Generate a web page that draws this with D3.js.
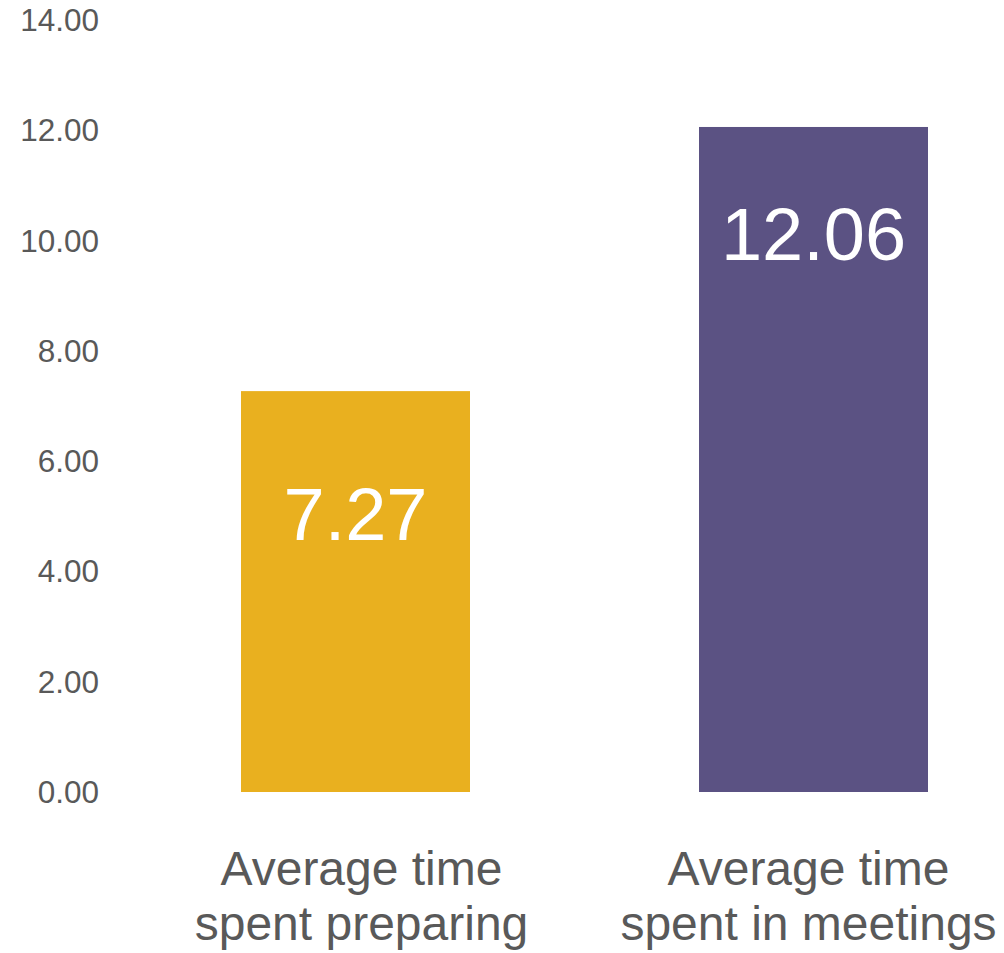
<!DOCTYPE html>
<html>
<head>
<meta charset="utf-8">
<script src="https://cdn.jsdelivr.net/npm/d3@7"></script>
<style>
  body { margin: 0; background: #fff; }
  text { font-family: "Liberation Sans", Arial, sans-serif; }
</style>
</head>
<body>
<div id="graph"></div>
<script>
var width = 1004, height = 953

var categories = [['Average time', 'spent preparing'], ['Average time', 'spent in meetings']]
var values = [7.27, 12.06]
var colors = ['#E9B01F', '#5B5283']
var ticks = [0, 2, 4, 6, 8, 10, 12, 14]

// distance from bar top to value label baseline, and category label nudge (px)
var labelDy = [149, 133]
var catDx = [6, -5]

var svg = d3.select('#graph').append('svg')
    .attr('width', width).attr('height', height)

var x = d3.scaleBand().domain(d3.range(values.length)).range([12, 1157]).padding(0.5)
var y = d3.scaleLinear().domain([0, 14]).range([792, 20])

// y axis labels, no line or ticks
svg.append('g').selectAll('text').data(ticks).join('text')
    .attr('x', 99).attr('y', y).attr('dy', '0.35em')
    .attr('text-anchor', 'end')
    .attr('font-size', 31.5).attr('fill', '#595959')
    .text(d3.format('.2f'))

svg.append('g').selectAll('rect').data(values).join('rect')
    .attr('x', (d, i) => x(i)).attr('width', x.bandwidth())
    .attr('y', y).attr('height', d => y(0) - y(d))
    .attr('fill', (d, i) => colors[i])

svg.append('g').selectAll('text').data(values).join('text')
    .attr('x', (d, i) => x(i) + x.bandwidth() / 2)
    .attr('y', (d, i) => y(d) + labelDy[i])
    .attr('text-anchor', 'middle')
    .attr('font-size', 74).attr('fill', '#fff')
    .text(d3.format('.2f'))

var cat = svg.append('g').selectAll('text').data(categories).join('text')
    .attr('text-anchor', 'middle')
    .attr('font-size', 48).attr('fill', '#595959')
    .attr('transform', (d, i) => 'translate(' + (x(i) + x.bandwidth() / 2 + catDx[i]) + ',885)')

cat.selectAll('tspan').data(d => d).join('tspan')
    .attr('x', 0).attr('y', (d, i) => i * 55)
    .text(d => d)
</script>
</body>
</html>
